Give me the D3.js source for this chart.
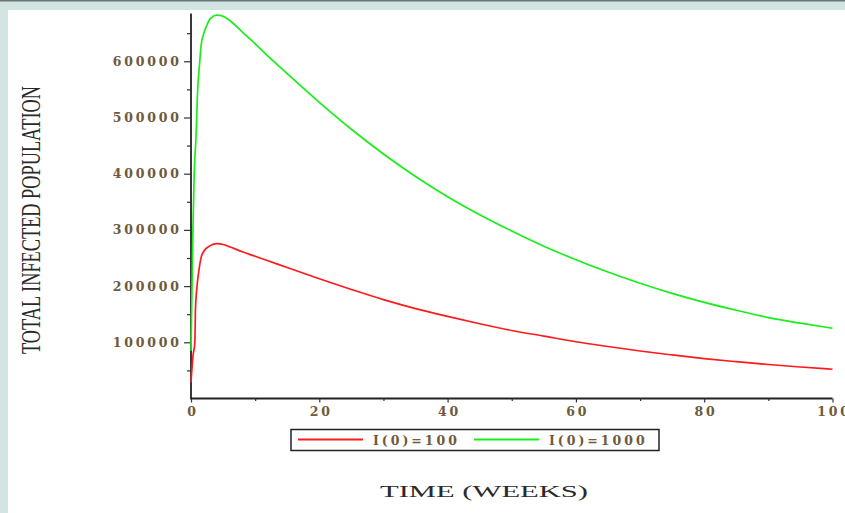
<!DOCTYPE html>
<html>
<head>
<meta charset="utf-8">
<script src="https://cdn.jsdelivr.net/npm/d3@7"></script>
<style>
  body { margin: 0; background: #fff; }
  svg { display: block; }
</style>
</head>
<body>
<div id="chart"></div>
<script>
var svgWidth = 845;
var svgHeight = 513;

// time in weeks
var weeks = [0, 0.3, 0.6, 0.7, 0.9, 1.2, 1.6, 2, 3, 4, 5, 6, 8, 10, 12, 15, 20, 25, 30, 35, 40, 45, 50, 55, 60, 65, 70, 75, 80, 85, 90, 95, 100];

// total infected, I(0)=100
var infected100 = [29000, 75000, 100000, 160000, 195000, 225000, 252000, 262000, 272000, 275500, 274000, 270000, 261000, 253000, 245000, 233000, 213000, 194000, 176000, 160000, 146000, 133000, 121000, 111000, 101000, 92500, 84500, 77500, 71000, 65500, 60500, 56000, 52000];

// total infected, I(0)=1000 (own time grid)
var weeksG = [0, 0.3, 0.5, 0.8, 1, 1.3, 1.6, 2, 2.5, 3, 4, 5, 6, 8, 10, 12, 15, 20, 25, 30, 35, 40, 45, 50, 55, 60, 65, 70, 75, 80, 85, 90, 95, 100];
var infected1000 = [85000, 300000, 400000, 470000, 540000, 590000, 630000, 650000, 665000, 676000, 682000, 680000, 673000, 652000, 631000, 609000, 578000, 527000, 479000, 435000, 395000, 359000, 327000, 298000, 271000, 247000, 225000, 205000, 187000, 171000, 157000, 144000, 134000, 125000];

var seriesNames = ["I(0)=100", "I(0)=1000"];
var seriesColors = ["#ff1a1a", "#19ee19"];

var xMajor = [0, 20, 40, 60, 80, 100];
var xMinor = [10, 30, 50, 70, 90];
var yMajor = [100000, 200000, 300000, 400000, 500000, 600000];
var yMinor = [50000, 150000, 250000, 350000, 450000, 550000, 650000];

var labelColor = "#6e5a3c";
var spacing = 2.8;

var svg = d3.select("#chart")
  .append("svg")
  .attr("width", svgWidth)
  .attr("height", svgHeight);

// page frame
svg.append("rect").attr("x", 0).attr("y", 0).attr("width", svgWidth).attr("height", svgHeight).attr("fill", "#d3e5e2");
svg.append("rect").attr("x", 8).attr("y", 10).attr("width", svgWidth - 8).attr("height", svgHeight - 10).attr("fill", "#ffffff");
svg.append("rect").attr("x", 0).attr("y", 0).attr("width", svgWidth).attr("height", 1.5).attr("fill", "#6f7575");

var x = d3.scaleLinear().domain([0, 100]).range([191, 832.5]);
var y = d3.scaleLinear().domain([0, 685000]).range([398.5, 13.5]);

var chartGroup = svg.append("g");

// x axis
var xAxis = chartGroup.append("g")
  .attr("transform", `translate(0, ${y(0)})`)
  .call(d3.axisBottom(x).tickValues(xMajor).tickSize(4).tickPadding(5).tickFormat(d3.format("d")));

chartGroup.append("g")
  .attr("transform", `translate(0, ${y(0)})`)
  .call(d3.axisBottom(x).tickValues(xMinor).tickSize(2.5).tickFormat(""))
  .select(".domain").remove();

// y axis
var yAxis = chartGroup.append("g")
  .attr("transform", `translate(${x(0)}, 0)`)
  .call(d3.axisLeft(y).tickValues(yMajor).tickSize(7).tickPadding(5).tickFormat(d3.format("d")));

chartGroup.append("g")
  .attr("transform", `translate(${x(0)}, 0)`)
  .call(d3.axisLeft(y).tickValues(yMinor).tickSize(4).tickFormat(""))
  .select(".domain").remove();

// plain domains without end caps
xAxis.select(".domain").attr("d", `M${x(0)},0H${x(100)}`);
yAxis.select(".domain").attr("d", `M0,${y(685000)}V${y(0) + 1}`);

svg.selectAll(".domain").attr("stroke", "#222").attr("stroke-width", 1.8);
svg.selectAll(".tick line").attr("stroke", "#333").attr("stroke-width", 1.2);
svg.selectAll(".tick text")
  .attr("fill", labelColor)
  .style("font-family", "DejaVu Serif")
  .style("font-weight", "bold")
  .style("font-size", "12.5px")
  .style("letter-spacing", spacing + "px");
xAxis.selectAll(".tick text").attr("dx", spacing / 2);
yAxis.selectAll(".tick text").attr("dx", spacing);

// curves
var line = d3.line()
  .x(d => x(d[0]))
  .y(d => y(d[1]))
  .curve(d3.curveMonotoneX);

var green = weeksG.map((t, i) => [t, infected1000[i]]);
var red = weeks.map((t, i) => [t, infected100[i]]);

chartGroup.append("path")
  .datum(green)
  .attr("fill", "none")
  .attr("stroke", seriesColors[1])
  .attr("stroke-width", 1.7)
  .attr("d", line);

chartGroup.append("path")
  .datum(red)
  .attr("fill", "none")
  .attr("stroke", seriesColors[0])
  .attr("stroke-width", 1.7)
  .attr("d", line);

// legend
var legend = svg.append("g");
legend.append("rect")
  .attr("x", 291).attr("y", 429.5)
  .attr("width", 368).attr("height", 21)
  .attr("fill", "#fff")
  .attr("stroke", "#222")
  .attr("stroke-width", 1.5);

var legendX = [298, 474];
seriesNames.forEach(function(name, i) {
  legend.append("line")
    .attr("x1", legendX[i]).attr("x2", legendX[i] + 65)
    .attr("y1", 439.5).attr("y2", 439.5)
    .attr("stroke", seriesColors[i])
    .attr("stroke-width", 2);
  legend.append("text")
    .attr("x", legendX[i] + 75)
    .attr("y", 445)
    .attr("fill", labelColor)
    .style("font-family", "DejaVu Serif")
    .style("font-weight", "bold")
    .style("font-size", "12.5px")
    .style("letter-spacing", "3px")
    .text(name);
});

// axis titles
svg.append("text")
  .attr("transform", "translate(40, 354) rotate(-90)")
  .attr("textLength", 268)
  .attr("lengthAdjust", "spacingAndGlyphs")
  .attr("fill", "#2a2a2a")
  .style("font-family", "Liberation Serif")
  .style("font-size", "27px")
  .text("TOTAL INFECTED POPULATION");

svg.append("text")
  .attr("x", 380)
  .attr("y", 497)
  .attr("textLength", 208)
  .attr("lengthAdjust", "spacingAndGlyphs")
  .attr("fill", "#2a2a2a")
  .style("font-family", "Liberation Serif")
  .style("font-size", "17px")
  .text("TIME (WEEKS)");
</script>
</body>
</html>
